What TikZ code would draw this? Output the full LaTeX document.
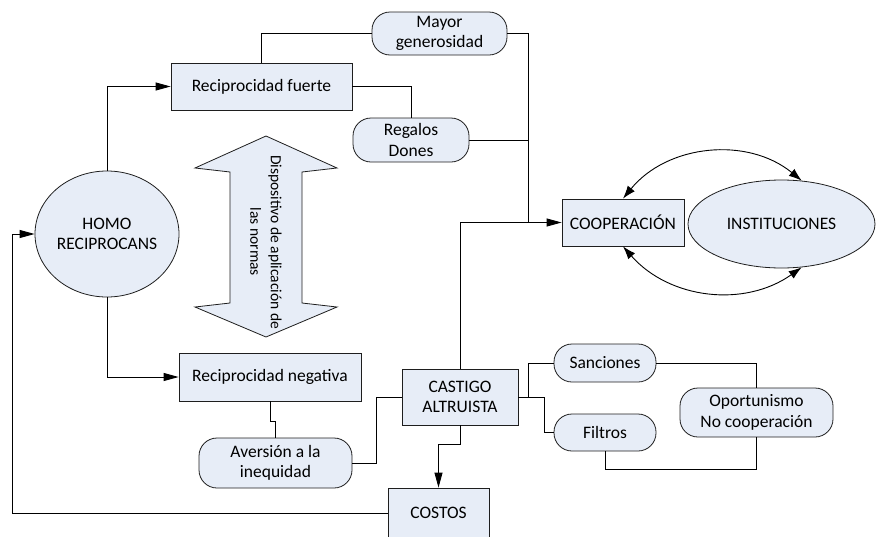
\documentclass[tikz,border=0pt]{standalone}
\usepackage{fontspec}
\setmainfont{Carlito}
\usetikzlibrary{calc}
\usetikzlibrary{arrows.meta}
\usetikzlibrary{shapes.geometric}

\definecolor{boxfill}{RGB}{231,237,247}
\definecolor{edge}{RGB}{30,30,30}

\begin{document}
\begin{tikzpicture}[x=1pt, y=-1pt,
  every node/.style={font=\fontsize{17.5}{20.5}\selectfont, inner sep=0pt, align=center},
  box/.style={draw=edge, fill=boxfill, line width=0.8pt},
  pill/.style={box, rounded corners=18pt},
  oval/.style={box, ellipse},
  link/.style={line width=0.9pt},
  go/.style={link, -{Triangle[length=15pt,width=8pt]}},
  both/.style={line width=0.9pt, {Latex[length=13pt,width=9pt]}-{Latex[length=13pt,width=9pt]}}]

\clip (0,0) rectangle (876,536);

% main nodes
\node[oval, minimum width=144pt, minimum height=126pt] (homo) at (107,234) {HOMO\\RECIPROCANS};
\node[box, minimum width=181pt, minimum height=47pt] (fuerte) at (261.5,86.5) {Reciprocidad fuerte};
\node[box, minimum width=182pt, minimum height=48pt] (negativa) at (270,377) {Reciprocidad negativa};
\node[pill, minimum width=135pt, minimum height=43pt] (mayor) at (439.5,33.5) {Mayor\\generosidad};
\node[pill, minimum width=116pt, minimum height=44pt] (regalos) at (411,140) {Regalos\\Dones};
\node[box, minimum width=122pt, minimum height=47pt] (coop) at (623,222.5) {COOPERACIÓN};
\node[oval, minimum width=187pt, minimum height=88pt] (inst) at (781.5,224) {INSTITUCIONES};
\node[pill, minimum width=153pt, minimum height=50pt] (aversion) at (275.5,463) {Aversión a la\\inequidad};
\node[box, minimum width=116pt, minimum height=56pt] (castigo) at (460,397) {CASTIGO\\ALTRUISTA};
\node[box, minimum width=101pt, minimum height=50pt] (costos) at (438.5,513) {COSTOS};
\node[pill, minimum width=102pt, minimum height=38pt] (sanciones) at (605,363) {Sanciones};
\node[pill, minimum width=102pt, minimum height=37pt] (filtros) at (605,432.5) {Filtros};
\node[pill, minimum width=153pt, minimum height=49pt] (oport) at (756.5,412.5) {Oportunismo\\No cooperación};

% double arrow
\draw[box] (266,136) -- (337,168) -- (302,172) -- (302,303) -- (337,307) -- (266,337)
  -- (195,307) -- (230,303) -- (230,172) -- (195,168) -- cycle;
\node[rotate=-90, font=\fontsize{15.5}{20.5}\selectfont] (norma) at (266,242) {Dispositivo de aplicación de\\las normas};

\coordinate (cj) at (528,222.5);

% connectors
\draw[go] (homo.north) |- (fuerte.west);
\draw[go] (homo.south) |- (negativa.west);
\draw[link] (fuerte.north) |- (mayor.west);
\draw[link] (fuerte.east) -| (regalos.north);
\draw[link] (mayor.east) -| (cj);
\draw[link] (regalos.east) -- (regalos.east -| cj);
\draw[go] (castigo.north) |- (coop.west);
\draw[go] (castigo.south) -- ++(0,19) -| (costos.north);
\draw[link] (negativa.south) -- ++(0,20) -| (aversion.north);
\draw[link] (aversion.east) -- ++(24,0) |- (castigo.west);
\draw[link] (castigo.east) -- ++(10,0) |- (sanciones.west);
\draw[link] (castigo.east) -- ++(26,0) |- (filtros.west);
\draw[link] (sanciones.east) -| (oport.north);
\draw[link] (filtros.south) -- ++(0,18) -| (oport.south);
\draw[go] (costos.west) -| ([xshift=-22pt]homo.west) -- (homo.west);

\draw[both] (coop.north) to[bend left=45] (inst.65);
\draw[both] (coop.south) to[bend right=42] (inst.-65);

\end{tikzpicture}
\end{document}
